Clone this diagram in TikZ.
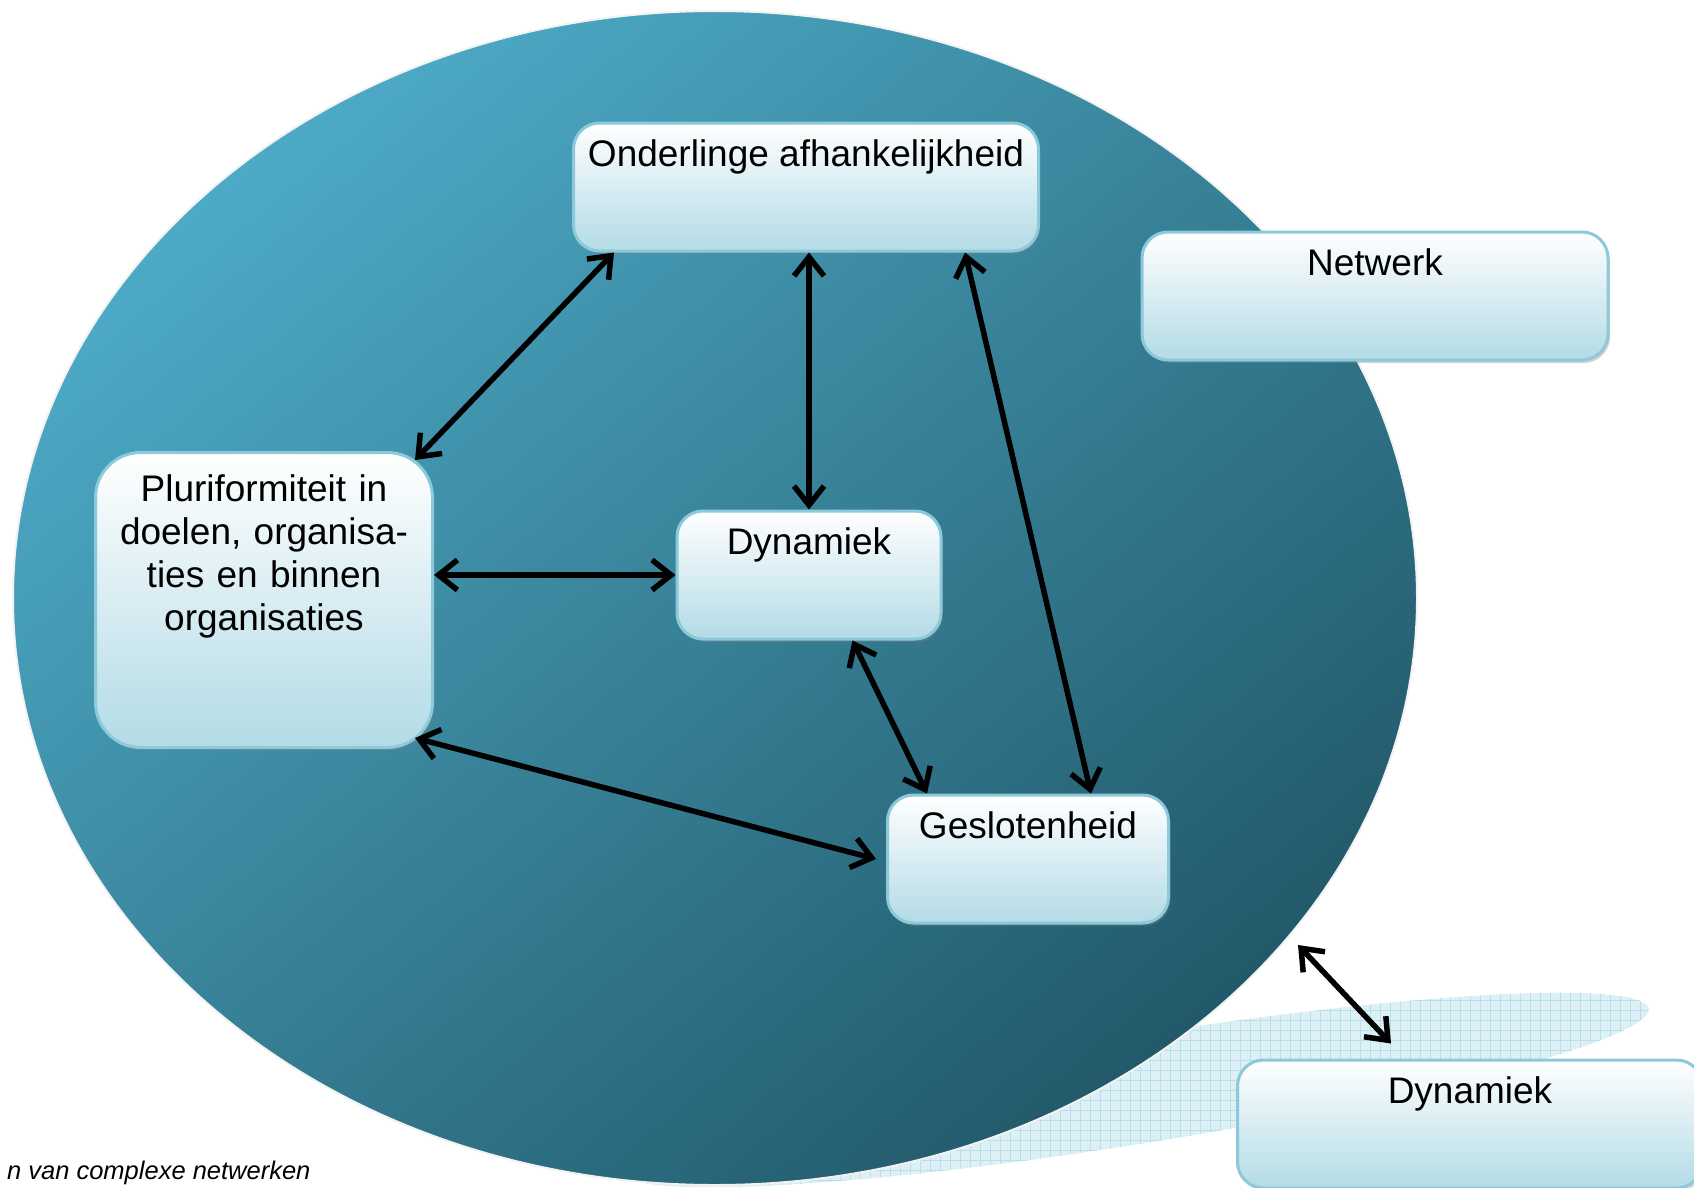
\documentclass[tikz,border=0pt]{standalone}
\usepackage{fontspec}
\setmainfont{Liberation Sans}
\usepackage{tikz}
\usetikzlibrary{shapes,arrows.meta,calc,shadows}

\definecolor{ovaltop}{HTML}{4DAAC6}
\definecolor{ovalmid}{HTML}{3C8CA3}
\definecolor{ovalbot}{HTML}{22596A}
\definecolor{boxbot}{HTML}{B3DBE6}
\definecolor{boxline}{HTML}{8CC9DA}
\definecolor{wavefill}{HTML}{DDF0F5}
\definecolor{wavegrid}{HTML}{B9E0EA}

\begin{document}
\begin{tikzpicture}[x=1pt, y=-1pt, font=\fontsize{37}{43}\selectfont]
\tikzstyle{block} = [rectangle, draw=boxline, line width=3pt, top color=white, bottom color=boxbot, rounded corners=26pt, inner sep=0pt, text height=43pt, text depth=85pt, drop shadow={shadow xshift=2pt, shadow yshift=-3pt, opacity=0.35}]
\tikzstyle{line} = [draw, line width=5.5pt, {Straight Barb[length=19pt,width=30pt]}-{Straight Barb[length=19pt,width=30pt]}]

\useasboundingbox (0,0) rectangle (1694,1187);

% light band behind the oval
\begin{scope}
\clip[rotate around={9:(1135,1090)}] (1135,1090) ellipse [x radius=520, y radius=54];
\fill[wavefill] (600,1187) rectangle (1694,940);
\draw[wavegrid, line width=0.8pt, step=10pt] (600,1187) grid (1694,940);
\end{scope}

% the oval
\shadedraw[top color=ovaltop, middle color=ovalmid, bottom color=ovalbot, shading angle=40, draw=white!90!gray, line width=2pt] (715,598) ellipse [x radius=702, y radius=587];

\node[block, minimum width=465pt] (onder) at (806,187) {Onderlinge afhankelijkheid};
\node[block, minimum width=466pt] (netwerk) at (1375,296) {Netwerk};
\node[block, minimum width=337pt, text width=337pt, align=center, rounded corners=45pt, text height=49pt, text depth=246pt] (pluri) at (264,600) {Pluriformiteit in\\doelen, organisa-\\ties en binnen\\organisaties};
\node[block, minimum width=264pt] (dyn) at (809,575) {Dynamiek};
\node[block, minimum width=281pt] (geslo) at (1028,859) {Geslotenheid};
\node[block, minimum width=465pt] (dynout) at (1470,1124) {Dynamiek};

\node[anchor=base east, font=\fontsize{25.5}{30}\selectfont\itshape] (caption) at (314,1179) {n van complexe netwerken};

\coordinate (ovalrim) at (1298,945);

\path [line] ($(onder.south west)+(42,0)$) -- ($(pluri.north east)+(-19,9)$);
\path [line] ($(onder.south)+(3,0)$) -- (dyn.north);
\path [line] ($(onder.south east)+(-75,0)$) -- ($(geslo.north west)+(205,0)$);
\path [line] (pluri.east |- dyn.west) -- (dyn.west);
\path [line] ($(dyn.south west)+(177,0)$) -- ($(geslo.north west)+(41,0)$);
\path [line] ($(pluri.south east)+(-19,-11)$) -- ($(geslo.west)+(-10,0)$);
\path [line] (ovalrim) -- ($(dynout.north west)+(155,-15)$);
\end{tikzpicture}
\end{document}
